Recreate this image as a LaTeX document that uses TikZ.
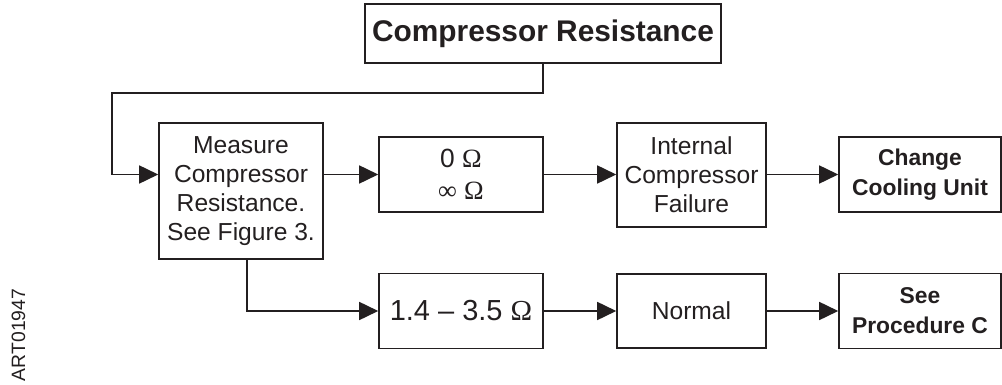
\documentclass[tikz,border=0pt]{standalone}
\usepackage{fontspec}
\setmainfont{Liberation Sans}
\newfontfamily\symserif{Liberation Serif}
\usetikzlibrary{arrows.meta}
\definecolor{ink}{HTML}{231F20}
\newcommand{\ohm}{{\symserif Ω}}
\begin{document}
\begin{tikzpicture}[x=0.02cm,y=-0.02cm]
  \tikzset{every node/.style={draw=ink, line width=0.9pt, align=center, text=ink, inner sep=2pt, font=\fontsize{14}{16.5}\selectfont}}
  \tikzset{every path/.style={ink, line width=0.9pt}}
  \tikzset{arr/.style={-{Triangle[length=0.38cm,width=0.36cm]}}}
  \tikzset{hd/.style={font=\fontsize{13}{17}\selectfont\bfseries}}
  \tikzset{wide/.style={minimum width=3.28cm, minimum height=1.5cm}}
  \tikzset{mid/.style={minimum width=2.98cm, minimum height=1.48cm}}

  \useasboundingbox (0,0) rectangle (1002,385);

  \node[minimum width=7.12cm, minimum height=1.18cm, font=\fontsize{17}{20}\selectfont\bfseries] (title) at (543,33.5) {Compressor Resistance};
  \node[minimum width=3.28cm, minimum height=2.72cm] (measure) at (241,191) {Measure\\Compressor\\Resistance.\\See Figure 3.};

  % upper row
  \node[wide, font=\fontsize{15}{18.5}\selectfont] (open) at (461,174.5) {0 \ohm\\{\symserif ∞} \ohm};
  \node[mid, minimum height=2.08cm] (internal) at (691.5,175) {Internal\\Compressor\\Failure};
  \node[wide, minimum width=3.24cm, hd] (change) at (920,174.5) {Change\\Cooling Unit};

  % lower row
  \node[wide, font=\fontsize{16.5}{19}\selectfont] (range) at (461,311) {1.4 – 3.5 \ohm};
  \node[mid] (normal) at (691.5,311) {Normal};
  \node[wide, minimum width=3.24cm, hd] (procC) at (920,311) {See\\Procedure C};

  \node[draw=none, rotate=90, font=\fontsize{11}{13}\selectfont] (artno) at (18.5,335) {ART01947};

  \coordinate (bend) at (112,93);
  \draw[arr] (title.south) |- (bend) |- (measure.west |- open.west);
  \draw[arr] (measure.east |- open.west) -- (open.west);
  \draw[arr] (open.east) -- (internal.west |- open.east);
  \draw[arr] (internal.east |- change.west) -- (change.west);
  \draw[arr] ([xshift=0.12cm]measure.south) |- (range.west);
  \draw[arr] (range.east) -- (normal.west);
  \draw[arr] (normal.east) -- (procC.west);
\end{tikzpicture}
\end{document}
